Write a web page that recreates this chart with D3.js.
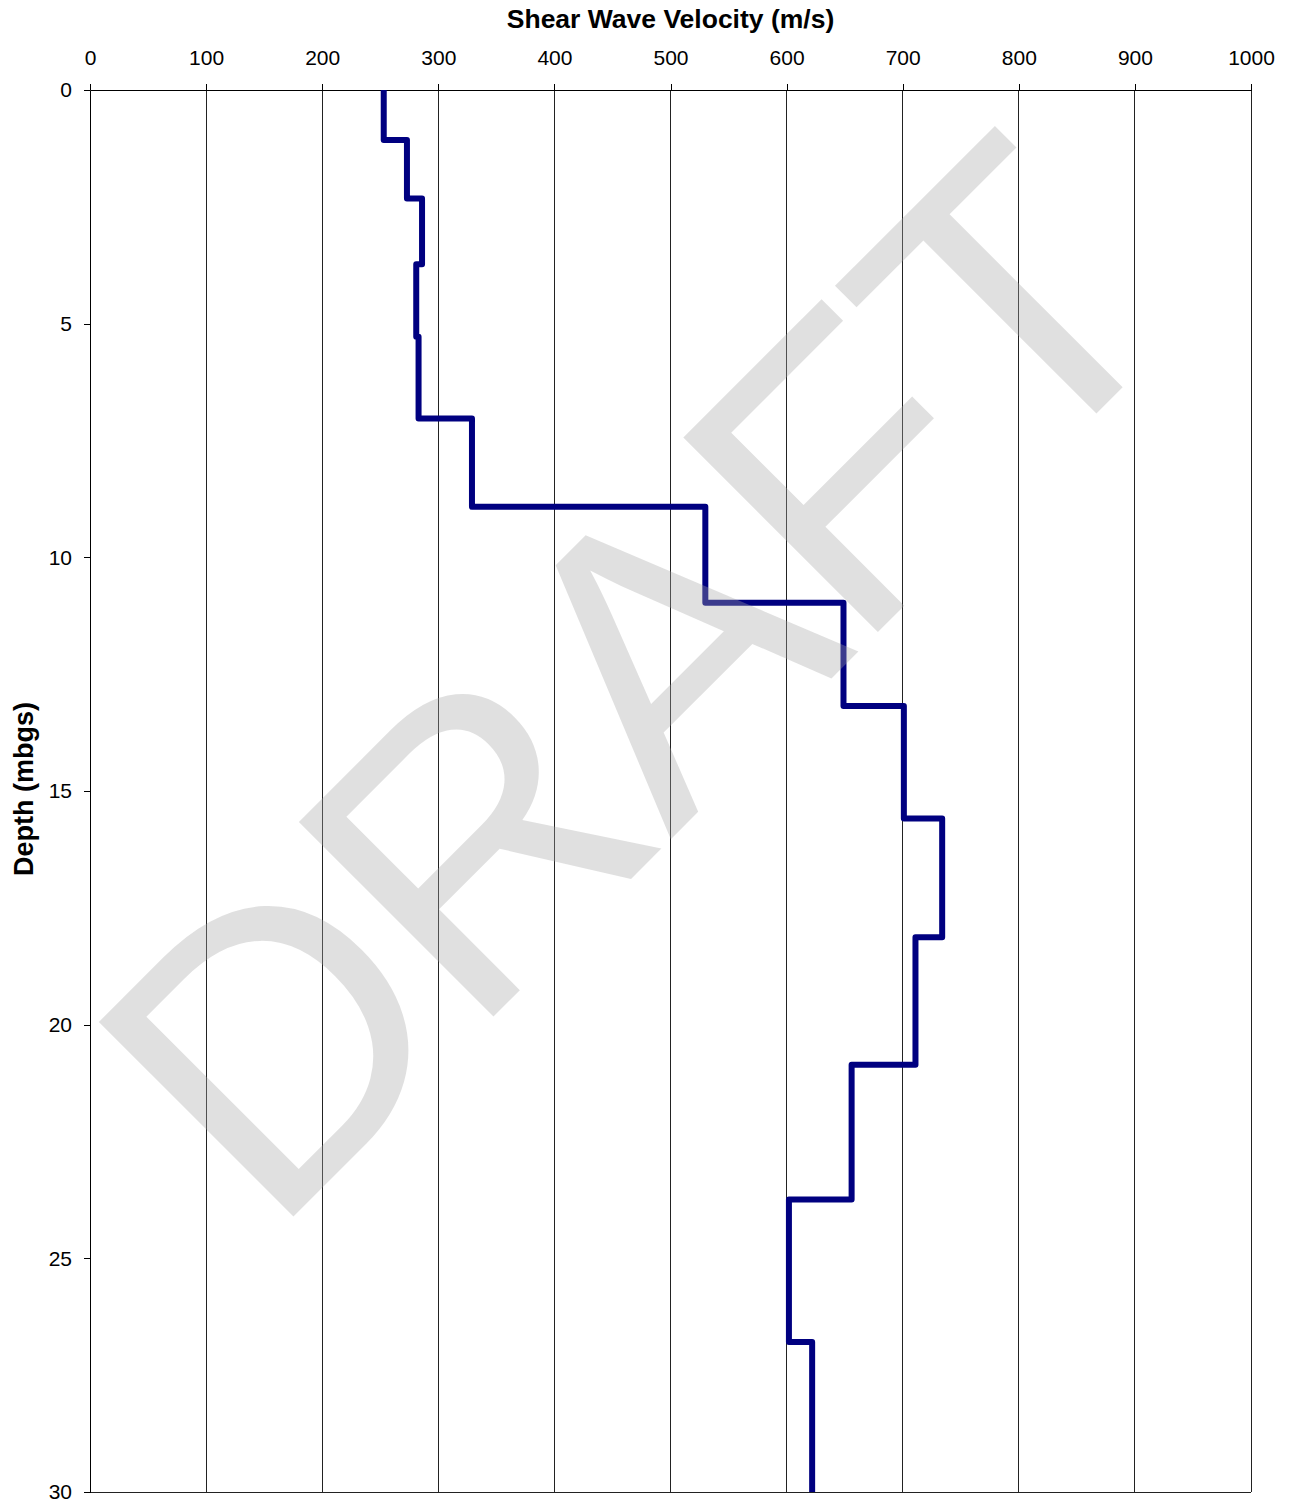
<!DOCTYPE html>
<html><head><meta charset="utf-8">
<script src="https://cdn.jsdelivr.net/npm/d3@7"></script>
<style>body{margin:0;background:#fff;} svg{display:block;font-family:Arial,"Liberation Sans",sans-serif;}</style>
</head><body>
<svg id="chart" width="1289" height="1502"></svg>
<script>
const layerTops = [0, 1.07, 2.32, 3.73, 5.28, 7.03, 8.92, 10.97, 13.18, 15.59, 18.13, 20.86, 23.74, 26.79];
const layerBottoms = [1.07, 2.32, 3.73, 5.28, 7.03, 8.92, 10.97, 13.18, 15.59, 18.13, 20.86, 23.74, 26.79, 30];
const velocities = [253, 273, 286, 281, 283, 329, 530, 649, 701, 734, 711, 656, 602, 622];
const xTicks = [0, 100, 200, 300, 400, 500, 600, 700, 800, 900, 1000];
const yTicks = [0, 5, 10, 15, 20, 25, 30];

const svg = d3.select("#chart");
const x = d3.scaleLinear().domain([0, 1000]).range([90, 1251]);
const y = d3.scaleLinear().domain([0, 30]).range([90, 1492]);

// gridlines
svg.append("g").selectAll("line").data(xTicks).join("line")
  .attr("x1", d => x(d)).attr("x2", d => x(d))
  .attr("y1", y(0)).attr("y2", y(30))
  .attr("stroke", "#222").attr("stroke-width", 1).attr("shape-rendering", "crispEdges");
// bottom border
svg.append("line").attr("x1", x(0)).attr("x2", x(1000)).attr("y1", y(30)).attr("y2", y(30))
  .attr("stroke", "#222").attr("shape-rendering", "crispEdges");

const xAxis = svg.append("g").attr("transform", `translate(0,${y(0)})`)
  .call(d3.axisTop(x).tickValues(xTicks).tickFormat(d3.format("d")).tickSize(6).tickPadding(19).tickSizeOuter(0));
const yAxis = svg.append("g").attr("transform", `translate(${x(0)},0)`)
  .call(d3.axisLeft(y).tickValues(yTicks).tickFormat(d3.format("d")).tickSize(6).tickPadding(12).tickSizeOuter(0));
[xAxis, yAxis].forEach(a => {
  a.selectAll("path,line").attr("stroke", "#000").attr("shape-rendering", "crispEdges");
  a.selectAll("text").attr("font-size", 21).attr("fill", "#000").attr("font-family", "Arial, 'Liberation Sans', sans-serif");
});

// profile
const pts = [];
velocities.forEach((v, i) => { pts.push([v, layerTops[i]]); pts.push([v, layerBottoms[i]]); });
svg.append("path").datum(pts)
  .attr("d", d3.line().x(d => x(d[0])).y(d => y(d[1])))
  .attr("fill", "none").attr("stroke", "#000080").attr("stroke-width", 6)
  .attr("stroke-linejoin", "round");

// titles
svg.append("text").attr("x", (x(0) + x(1000)) / 2).attr("y", 28)
  .attr("text-anchor", "middle").attr("font-size", 26.5).attr("font-weight", "bold")
  .text("Shear Wave Velocity (m/s)");
svg.append("text").attr("transform", `translate(33,${(y(0) + y(30)) / 2 - 2}) rotate(-90)`)
  .attr("text-anchor", "middle").attr("font-size", 27).attr("font-weight", "bold")
  .text("Depth (mbgs)");

// watermark
svg.append("text").attr("transform", "translate(731,779) rotate(-45)")
  .attr("text-anchor", "middle").attr("font-size", 400).attr("letter-spacing", -6)
  .attr("fill", "#a6a6a6").attr("fill-opacity", 0.35)
  .text("DRAFT");
</script>
</body></html>
